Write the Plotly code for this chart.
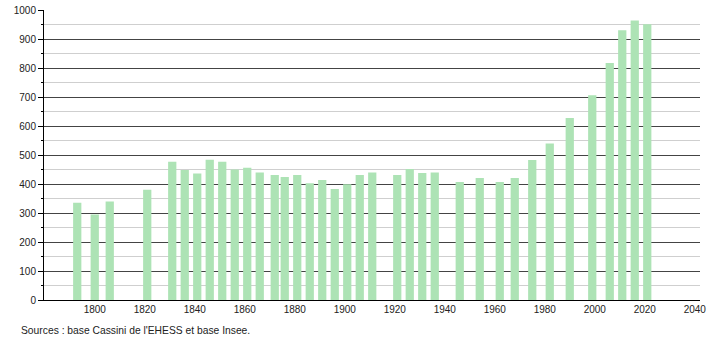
import plotly.graph_objects as go

years = [1793, 1800, 1806, 1821, 1831, 1836, 1841, 1846, 1851, 1856, 1861, 1866,
         1872, 1876, 1881, 1886, 1891, 1896, 1901, 1906, 1911, 1921, 1926, 1931,
         1936, 1946, 1954, 1962, 1968, 1975, 1982, 1990, 1999, 2006, 2011, 2016, 2021]
population = [335, 295, 340, 380, 477, 448, 436, 484, 477, 450, 456, 440,
              431, 424, 431, 403, 414, 383, 399, 431, 440, 431, 452, 438,
              440, 407, 421, 407, 421, 483, 540, 628, 706, 817, 930, 964, 951]
x_ticks = [1800, 1820, 1840, 1860, 1880, 1900, 1920, 1940, 1960, 1980, 2000, 2020, 2040]
source_text = "Sources : base Cassini de l'EHESS et base Insee."

fig = go.Figure()
fig.add_trace(go.Bar(x=years, y=population, width=3.3,
                     marker=dict(color="#ade3b5", line=dict(width=0)),
                     hoverinfo="x+y"))

fig.update_layout(
    width=710, height=340,
    margin=dict(l=44, r=10, t=10, b=40, autoexpand=False),
    paper_bgcolor="white", plot_bgcolor="white",
    font=dict(family="Liberation Sans, Arial, sans-serif", size=10, color="#222"),
    showlegend=False,
    xaxis=dict(range=[1779.7, 2042.1], tickvals=x_ticks, showgrid=False,
               showline=True, linecolor="#000", linewidth=1, ticks="",
               zeroline=False, tickfont=dict(size=10), automargin=False),
    yaxis=dict(range=[0, 1000], dtick=100, tick0=0, showgrid=True,
               gridcolor="#444", gridwidth=1, showline=True, linecolor="#000",
               linewidth=1, ticks="outside", ticklen=5, tickcolor="#000",
               zeroline=False, tickfont=dict(size=10), automargin=False,
               minor=dict(dtick=50, showgrid=True, gridcolor="#cfcfcf",
                          ticks="outside", ticklen=2, tickcolor="#000")),
    annotations=[dict(text=source_text, xref="paper", yref="paper",
                      x=-0.038, y=-0.078, xanchor="left", yanchor="top",
                      showarrow=False, font=dict(size=10.3, color="#222"))],
)

fig.write_html("out.html")
